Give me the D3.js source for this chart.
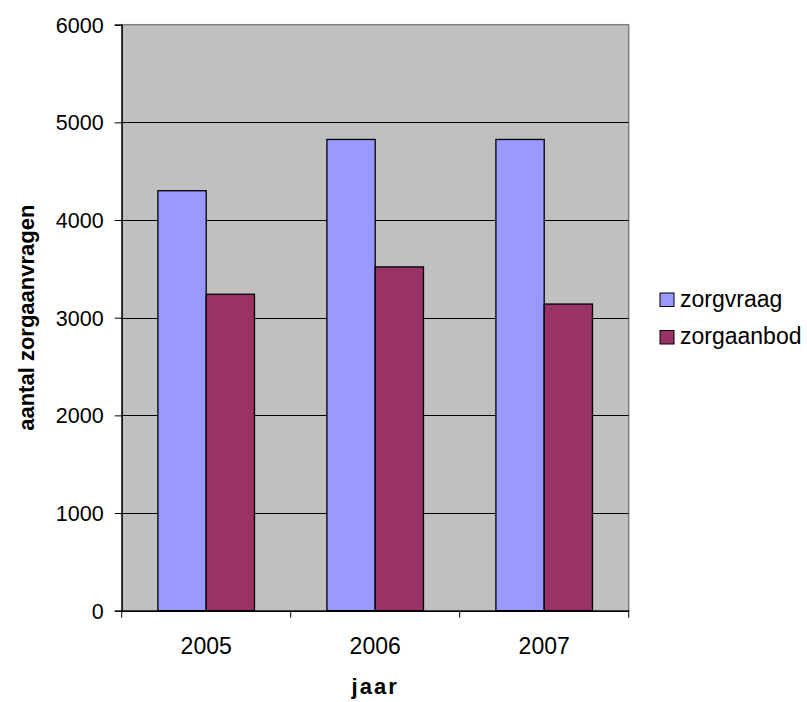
<!DOCTYPE html>
<html>
<head>
<meta charset="utf-8">
<script src="https://cdn.jsdelivr.net/npm/d3@7/dist/d3.min.js"></script>
<style>
  html, body { margin: 0; padding: 0; background: #fff; }
  svg { display: block; font-family: "Liberation Sans", Arial, sans-serif; }
</style>
</head>
<body>
<svg id="chart" width="807" height="702"></svg>
<script>
const years = ["2005", "2006", "2007"];
const seriesNames = ["zorgvraag", "zorgaanbod"];
const zorgvraag = [4300, 4825, 4825];
const zorgaanbod = [3240, 3520, 3140];
const yTicks = [0, 1000, 2000, 3000, 4000, 5000, 6000];
const colors = ["#9999FF", "#993366"];

const FONT = "'Liberation Sans', Arial, sans-serif";
const svg = d3.select("#chart");
const plot = { left: 121.7, right: 628.7, top: 24.7, bottom: 610.7 };

const x = d3.scaleBand().domain(years).range([plot.left, plot.right]).paddingInner(0).paddingOuter(0);
const barW = x.bandwidth() / (2 + 1.5);
const inner = d3.scaleBand().domain(seriesNames).range([0, barW * 2]);
const y = d3.scaleLinear().domain([0, 6000]).range([plot.bottom, plot.top]);

// plot area
svg.append("rect")
  .attr("x", plot.left).attr("y", plot.top)
  .attr("width", plot.right - plot.left).attr("height", plot.bottom - plot.top)
  .attr("fill", "#C0C0C0").attr("stroke", "#808080").attr("stroke-width", 1.5);

// gridlines
svg.append("g").selectAll("line").data(yTicks.filter(d => d > 0 && d < 6000)).join("line")
  .attr("x1", plot.left).attr("x2", plot.right)
  .attr("y1", d => Math.round(y(d)) + 0.5).attr("y2", d => Math.round(y(d)) + 0.5)
  .attr("stroke", "#000").attr("stroke-width", 1);

// bars
const data = years.map((yr, i) => ({ yr, values: [zorgvraag[i], zorgaanbod[i]] }));
svg.append("g").selectAll("g").data(data).join("g")
  .attr("transform", d => `translate(${x(d.yr) + (x.bandwidth() - barW * 2) / 2},0)`)
  .selectAll("rect").data(d => d.values.map((v, j) => ({ v, name: seriesNames[j], j }))).join("rect")
  .attr("x", d => inner(d.name))
  .attr("width", inner.bandwidth())
  .attr("y", d => y(d.v))
  .attr("height", d => y(0) - y(d.v))
  .attr("fill", d => colors[d.j])
  .attr("stroke", "#000").attr("stroke-width", 1.3);

// y axis
const yAxis = d3.axisLeft(y).tickValues(yTicks).tickSize(7).tickPadding(11).tickFormat(d3.format("d"));
const gy = svg.append("g").attr("transform", `translate(${plot.left},0)`).call(yAxis)
  .attr("font-size", null).attr("font-family", null);
gy.select(".domain").attr("stroke", "#000").attr("stroke-width", 1.3);
gy.selectAll(".tick line").attr("stroke", "#000");
gy.selectAll(".tick text").style("font-size", "21.5px").attr("fill", "#000")
  .style("font-family", FONT).attr("dy", "0.35em");

// x axis: ticks between categories
const xAxis = d3.axisBottom(x).tickSize(0).tickPadding(0);
const gx = svg.append("g").attr("transform", `translate(0,${plot.bottom})`).call(xAxis)
  .attr("font-size", null).attr("font-family", null);
gx.select(".domain").attr("stroke", "#000").attr("stroke-width", 1.5);
gx.selectAll(".tick text").style("font-size", "23px").attr("fill", "#000")
  .style("font-family", FONT).attr("y", 43.5).attr("dy", null);
const boundaries = years.map(d => x(d)).concat([x(years[years.length - 1]) + x.bandwidth()]);
gx.selectAll(".sep").data(boundaries).join("line").attr("class", "sep")
  .attr("x1", d => d).attr("x2", d => d).attr("y1", 0).attr("y2", 7)
  .attr("stroke", "#000");

// axis titles
svg.append("text")
  .attr("transform", `translate(34,${(plot.top + plot.bottom) / 2}) rotate(-90)`)
  .attr("text-anchor", "middle").style("font-size", "22px").attr("font-weight", "bold")
  .text("aantal zorgaanvragen");
svg.append("text")
  .attr("x", (plot.left + plot.right) / 2).attr("y", 694)
  .attr("text-anchor", "middle").style("font-size", "22px").attr("font-weight", "bold")
  .attr("letter-spacing", 2)
  .text("jaar");

// legend
const legend = svg.append("g").attr("transform", "translate(660,0)");
const lg = legend.selectAll("g").data(seriesNames).join("g")
  .attr("transform", (d, i) => `translate(0,${293 + i * 37.5})`);
lg.append("rect").attr("width", 14).attr("height", 13.5)
  .attr("fill", (d, i) => colors[i]).attr("stroke", "#000").attr("stroke-width", 1);
lg.append("text").attr("x", 20).attr("y", 13.5).style("font-size", "23px").text(d => d);
</script>
</body>
</html>
